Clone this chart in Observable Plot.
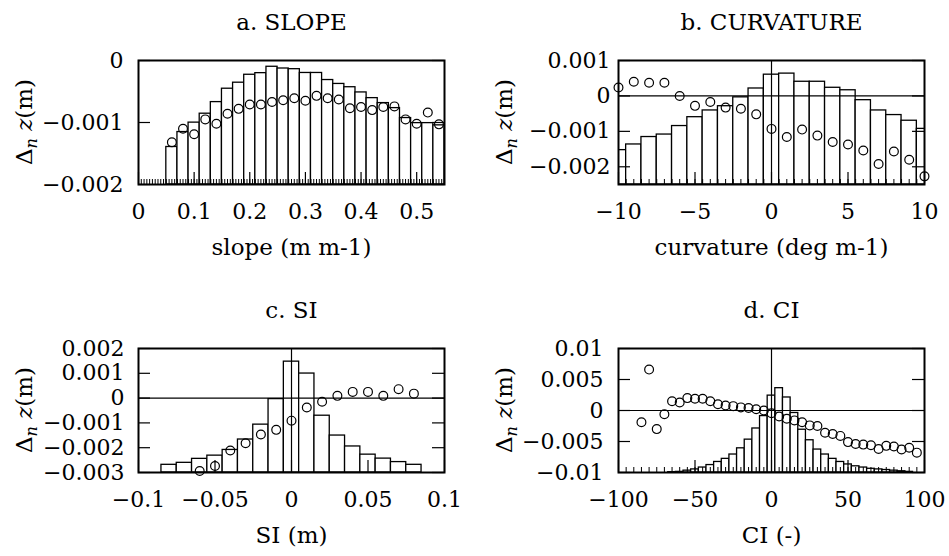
<!DOCTYPE html>
<html><head><meta charset="utf-8">
<script src="https://cdn.jsdelivr.net/npm/d3@7"></script>
<script src="https://cdn.jsdelivr.net/npm/@observablehq/plot@0.6"></script>
<style>
body{margin:0;background:#fff;}
#wrap{position:relative;width:949px;height:556px;overflow:hidden;background:#fff;}
#wrap svg{position:absolute;}
</style></head><body><div id="wrap"></div>
<script>
// ---------- a. SLOPE ----------
const slopeBins = [0.06,0.08,0.10,0.12,0.14,0.16,0.18,0.20,0.22,0.24,0.26,0.28,0.30,0.32,0.34,0.36,0.38,0.40,0.42,0.44,0.46,0.48,0.50,0.52,0.54];
const slopeBars = [-0.001395,-0.001154,-0.001002,-0.000858,-0.000671,-0.000455,-0.000358,-0.00023,-0.000204,-0.000101,-0.000129,-0.00014,-0.000201,-0.000201,-0.000315,-0.000378,-0.000431,-0.000515,-0.000607,-0.000687,-0.000768,-0.000928,-0.00101,-0.00101,-0.001046];
const slopeDots = [-0.00132,-0.0011,-0.00119,-0.00095,-0.00102,-0.00086,-0.00078,-0.00071,-0.00071,-0.00067,-0.00064,-0.00061,-0.00065,-0.00057,-0.00061,-0.00063,-0.00077,-0.00075,-0.0008,-0.00075,-0.00074,-0.00095,-0.00102,-0.00084,-0.00103];
const slopeXTicks = [0,0.1,0.2,0.3,0.4,0.5];
const slopeXLabels = ["0","0.1","0.2","0.3","0.4","0.5"];
const slopeYTicks = [0,-0.001,-0.002];
const slopeYLabels = ["0","\u22120.001","\u22120.002"];

// ---------- b. CURVATURE ----------
const curvBins = [-10,-9,-8,-7,-6,-5,-4,-3,-2,-1,0,1,2,3,4,5,6,7,8,9,10];
const curvBars = [-0.00153,-0.00137,-0.00116,-0.00109,-0.00085,-0.0006,-0.00041,-0.00029,-0.00004,0.00021,0.0006,0.00063,0.0004,0.0004,0.00023,0.00016,-0.00012,-0.00041,-0.00054,-0.0007,-0.00093];
const curvDots = [0.00024,0.0004,0.00037,0.00037,0,-0.00028,-0.00017,-0.00033,-0.00036,-0.00052,-0.00093,-0.00116,-0.00095,-0.00112,-0.0013,-0.00137,-0.00154,-0.00192,-0.00157,-0.0018,-0.00227];
const curvXTicks = [-10,-5,0,5,10];
const curvXLabels = ["\u221210","\u22125","0","5","10"];
const curvYTicks = [0.001,0,-0.001,-0.002];
const curvYLabels = ["0.001","0","\u22120.001","\u22120.002"];

// ---------- c. SI ----------
const siBins = [-0.08,-0.07,-0.06,-0.05,-0.04,-0.03,-0.02,-0.01,0,0.01,0.02,0.03,0.04,0.05,0.06,0.07,0.08];
const siBars = [-0.00269,-0.00261,-0.00245,-0.00232,-0.00209,-0.00167,-0.00107,-0.00004,0.00147,0.00099,-0.00071,-0.00151,-0.00195,-0.00228,-0.00244,-0.00258,-0.00269];
const siDotX = [-0.06,-0.05,-0.04,-0.03,-0.02,-0.01,0,0.01,0.02,0.03,0.04,0.05,0.06,0.07,0.08];
const siDots = [-0.00294,-0.00274,-0.00211,-0.00182,-0.00147,-0.00128,-0.00091,-0.00038,-0.00015,0.00009,0.00025,0.00025,0.00009,0.00036,0.00018];
const siXTicks = [-0.1,-0.05,0,0.05,0.1];
const siXLabels = ["\u22120.1","\u22120.05","0","0.05","0.1"];
const siYTicks = [0.002,0.001,0,-0.001,-0.002,-0.003];
const siYLabels = ["0.002","0.001","0","\u22120.001","\u22120.002","\u22120.003"];

// ---------- d. CI ----------
const ciBins = [-65,-60,-55,-50,-45,-40,-35,-30,-25,-20,-15,-10,-5,0,5,10,15,20,25,30,35,40,45,50,55,60,65,70,75,80,85,90];
const ciBars = [-0.00995,-0.0099,-0.0097,-0.0095,-0.0092,-0.0088,-0.0083,-0.0078,-0.0071,-0.0061,-0.0047,-0.0029,-0.0009,0.0024,0.0036,0.0021,-0.0004,-0.0031,-0.0048,-0.0063,-0.0071,-0.0078,-0.0083,-0.0087,-0.0090,-0.0092,-0.0094,-0.0095,-0.0096,-0.0097,-0.0098,-0.0099];
const ciDotX = [-85,-80,-75,-70,-65,-60,-55,-50,-45,-40,-35,-30,-25,-20,-15,-10,-5,0,5,10,15,20,25,30,35,40,45,50,55,60,65,70,75,80,85,90,95];
const ciDots = [-0.0019,0.0066,-0.003,-0.0006,0.0015,0.0013,0.002,0.0019,0.0019,0.0015,0.001,0.0008,0.0007,0.0005,0.0004,0.0002,0,-0.00045,-0.00096,-0.00134,-0.0016,-0.0019,-0.0024,-0.0025,-0.0036,-0.0038,-0.0041,-0.0051,-0.0054,-0.0055,-0.0056,-0.0062,-0.0057,-0.0058,-0.0063,-0.006,-0.0068];
const ciXTicks = [-100,-50,0,50,100];
const ciXLabels = ["\u2212100","\u221250","0","50","100"];
const ciYTicks = [0.01,0.005,0,-0.005,-0.01];
const ciYLabels = ["0.01","0.005","0","\u22120.005","\u22120.01"];

const FONT = "DejaVu Serif";
const TICK_FS = 22, LABEL_FS = 23;

function panel(o) {
  const fw = o.width - o.ml - o.mr, fh = o.height - o.mt - o.mb;
  const bars = o.barX.map((x, i) => ({x1: x - o.barW / 2, x2: x + o.barW / 2, y: o.barY[i]}));
  const dots = o.dotX.map((x, i) => ({x, y: o.dotY[i]}));
  const marks = [
    Plot.rectY(bars, {x1: "x1", x2: "x2", y1: o.yDomain[0], y2: "y", fill: "white", stroke: "black", strokeWidth: 1.3, clip: true})
  ];
  if (o.zero) {
    marks.push(Plot.ruleY([0], {stroke: "black", strokeWidth: 1.2}));
    marks.push(Plot.ruleX([0], {stroke: "black", strokeWidth: 1.2}));
  }
  if (o.xMinor) marks.push(Plot.tickX(o.xMinor, {x: d => d, insetTop: fh - 5, stroke: "black", strokeWidth: 1}));
  marks.push(Plot.tickX(o.xTicks, {x: d => d, insetTop: fh - 12, stroke: "black", strokeWidth: 1.2}));
  marks.push(Plot.tickY(o.yTicks, {y: d => d, insetRight: fw - 12, stroke: "black", strokeWidth: 1.2}));
  marks.push(Plot.tickY(o.yTicks, {y: d => d, insetLeft: fw - 12, stroke: "black", strokeWidth: 1.2}));
  marks.push(Plot.dot(dots, {x: "x", y: "y", r: 4.4, stroke: "black", fill: "none", strokeWidth: 1.2}));
  marks.push(Plot.frame({stroke: "black", strokeWidth: 2}));
  marks.push(Plot.axisX({ticks: o.xTicks, tickFormat: d => o.xLabels[o.xTicks.indexOf(d)], tickSize: 0, tickPadding: 19, fontSize: TICK_FS, label: null}));
  marks.push(Plot.axisY({ticks: o.yTicks, tickFormat: d => o.yLabels[o.yTicks.indexOf(d)], tickSize: 0, tickPadding: o.yPad, fontSize: TICK_FS, label: null}));
  marks.push(Plot.text([o.title], {frameAnchor: "top", dy: -31, lineAnchor: "bottom", fontSize: LABEL_FS, fill: "black"}));
  marks.push(Plot.text([o.xLabel], {frameAnchor: "bottom", dy: 70, lineAnchor: "bottom", fontSize: LABEL_FS, fill: "black"}));
  const svg = Plot.plot({
    width: o.width, height: o.height,
    marginLeft: o.ml, marginRight: o.mr, marginTop: o.mt, marginBottom: o.mb,
    x: {domain: o.xDomain}, y: {domain: o.yDomain},
    style: {fontFamily: FONT, fontSize: TICK_FS + "px", background: "white", color: "black", overflow: "visible"},
    marks
  });
  svg.style.left = o.left + "px";
  svg.style.top = o.top + "px";
  // rotated y label: Δ_n z(m)
  const t = d3.select(svg).append("text")
    .attr("transform", `translate(${o.ml - 106},${o.mt + fh / 2}) rotate(-90)`)
    .attr("text-anchor", "middle")
    .attr("font-family", FONT)
    .attr("font-size", LABEL_FS)
    .attr("fill", "black");
  t.append("tspan").text("\u0394");
  t.append("tspan").attr("font-style", "italic").attr("font-size", 16).attr("dy", 5).text("n");
  t.append("tspan").attr("dy", -5).text("\u00A0");
  t.append("tspan").attr("font-style", "italic").text("z");
  t.append("tspan").text("(m)");
  document.getElementById("wrap").appendChild(svg);
}

panel({left: 0, top: 0, width: 474, height: 278, ml: 138, mr: 30, mt: 60, mb: 94,
  xDomain: [0, 0.55], yDomain: [-0.002, 0], barX: slopeBins, barY: slopeBars, barW: 0.02,
  dotX: slopeBins, dotY: slopeDots, xTicks: slopeXTicks, xLabels: slopeXLabels,
  xMinor: d3.range(0, 0.5501, 0.005), yTicks: slopeYTicks, yLabels: slopeYLabels, yPad: 15,
  zero: false, title: "a. SLOPE", xLabel: "slope (m m-1)"});

panel({left: 474, top: 0, width: 475, height: 278, ml: 144, mr: 25, mt: 60, mb: 94,
  xDomain: [-10, 10], yDomain: [-0.0025, 0.001], barX: curvBins, barY: curvBars, barW: 1,
  dotX: curvBins, dotY: curvDots, xTicks: curvXTicks, xLabels: curvXLabels,
  xMinor: d3.range(-10, 10.01, 0.5), yTicks: curvYTicks, yLabels: curvYLabels, yPad: 8,
  zero: true, title: "b. CURVATURE", xLabel: "curvature (deg m-1)"});

panel({left: 0, top: 278, width: 474, height: 278, ml: 138, mr: 30, mt: 70, mb: 84,
  xDomain: [-0.1, 0.1], yDomain: [-0.003, 0.002], barX: siBins, barY: siBars, barW: 0.01,
  dotX: siDotX, dotY: siDots, xTicks: siXTicks, xLabels: siXLabels,
  xMinor: null, yTicks: siYTicks, yLabels: siYLabels, yPad: 14,
  zero: true, title: "c. SI", xLabel: "SI (m)"});

panel({left: 474, top: 278, width: 475, height: 278, ml: 144, mr: 25, mt: 70, mb: 84,
  xDomain: [-100, 100], yDomain: [-0.01, 0.01], barX: ciBins, barY: ciBars, barW: 5,
  dotX: ciDotX, dotY: ciDots, xTicks: ciXTicks, xLabels: ciXLabels,
  xMinor: d3.range(-100, 100.01, 5), yTicks: ciYTicks, yLabels: ciYLabels, yPad: 15,
  zero: true, title: "d. CI", xLabel: "CI (-)"});
</script></body></html>
